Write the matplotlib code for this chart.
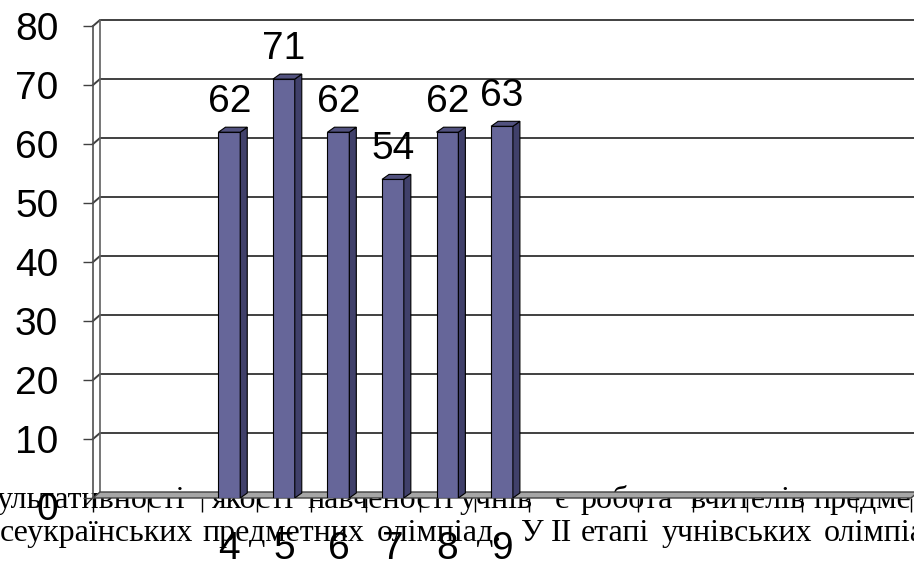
import numpy as np
import matplotlib
matplotlib.use('Agg')
import matplotlib.pyplot as plt
from matplotlib.patches import Polygon
from matplotlib.transforms import IdentityTransform

# категорії (класи) та відсотки
klasy = ['', '', '4', '5', '6', '7', '8', '9', '', '', '', '', '', '', '']
vidsotky = [np.nan, np.nan, 62, 71, 62, 54, 62, 63,
            np.nan, np.nan, np.nan, np.nan, np.nan, np.nan, np.nan]
y_ticks = [0, 10, 20, 30, 40, 50, 60, 70, 80]

# текст документа, що проступає під діаграмою
ryadok1 = ['ультативності', 'якості', 'навченості', 'учнів', 'є', 'робота',
           'вчителів', 'предме']
ryadok2 = ['сеукраїнських', 'предметних', 'олімпіад.', 'У', 'II', 'етапі',
           'учнівських', 'олімпіа']
x1 = [-3, 212, 307, 460, 555, 580, 690, 813]
x2 = [0, 202, 377, 521, 551, 581, 662, 824]

W, H = 914, 562
fig = plt.figure(figsize=(W / 100, H / 100), dpi=100)
ax = fig.add_axes([93 / W, 64 / H, 818 / W, 472 / H])
ax.set_xlim(-0.5, len(klasy) - 0.5)
ax.set_ylim(0, 80)
ax.patch.set_alpha(0)
for s in ['top', 'right', 'bottom']:
    ax.spines[s].set_visible(False)
ax.spines['left'].set_color('#505050')
ax.spines['left'].set_linewidth(1.2)

chart_font = 'Liberation Sans'
ax.set_yticks(y_ticks)
# "0" малюється окремо, трохи нижче, як в оригіналі
ax.set_yticklabels([''] + [str(t) for t in y_ticks[1:]], fontsize=28, family=chart_font)
ax.tick_params(axis='y', length=7, width=1, color='#404040', pad=18)
ax.annotate(str(y_ticks[0]), (-0.5, y_ticks[0]), xytext=(-25.2, -6),
            textcoords='offset points', ha='right', va='center_baseline',
            fontsize=28, family=chart_font, annotation_clip=False)
ax.set_xticks(range(len(klasy)))
ax.set_xticklabels(klasy, fontsize=28, family=chart_font)
ax.set_xticks(np.arange(-0.5, len(klasy)), minor=True)
ax.tick_params(axis='x', which='major', length=0, pad=24)
ax.tick_params(axis='x', which='minor', length=10, width=1, color='black')

ident = IdentityTransform()


def px(x, y):
    return ax.transData.transform((x, y))


wdx, wdy = 7, 6
xl, xr = -0.5, len(klasy) - 0.5

# задня стінка: лінії сітки
for t in y_ticks[1:]:
    a = px(xl, t)
    b = a + (wdx, wdy)
    c = px(xr, t) + (wdx, wdy)
    ax.plot([a[0], b[0], c[0]], [a[1], b[1], c[1]], transform=ident,
            color='#404040', lw=1.4, clip_on=False, zorder=1)
a = px(xl, 0) + (wdx, wdy)
b = px(xl, 80) + (wdx, wdy)
ax.plot([a[0], b[0]], [a[1], b[1]], transform=ident, color='#606060',
        lw=1.2, clip_on=False, zorder=1)

# підлога
f0, f1 = px(xl, 0), px(xr, 0)
floor = Polygon([f0, f1, f1 + (wdx, wdy), f0 + (wdx, wdy)], closed=True,
                transform=ident, facecolor='#a6a6a6', edgecolor='#404040',
                lw=1, clip_on=False, zorder=2)
ax.add_patch(floor)

# стовпчики
bdx, bdy = 7, 5
bars = ax.bar(range(len(klasy)), vidsotky, width=0.4, color='#666699',
              edgecolor='black', lw=0.8, zorder=4)
for i, (rect, v) in enumerate(zip(bars, vidsotky)):
    if np.isnan(v):
        continue
    x0 = rect.get_x()
    xx = x0 + rect.get_width()
    p10, p11, p01 = px(xx, 0), px(xx, v), px(x0, v)
    side = Polygon([p10, p11, p11 + (bdx, bdy), p10 + (bdx, bdy)],
                   transform=ident, facecolor='#40406a', edgecolor='black',
                   lw=0.8, zorder=4)
    top = Polygon([p01, p11, p11 + (bdx, bdy), p01 + (bdx, bdy)],
                  transform=ident, facecolor='#52527f', edgecolor='black',
                  lw=0.8, zorder=4)
    ax.add_patch(side)
    ax.add_patch(top)
    ax.annotate(str(int(v)), (i, v), xytext=(0, 14.5), textcoords='offset points',
                ha='center', va='baseline', fontsize=28, family=chart_font,
                zorder=5)

# рядки тексту під діаграмою
for words, xs, base in [(ryadok1, x1, 508), (ryadok2, x2, 541)]:
    for w, x in zip(words, xs):
        fig.text(x / W, 1 - base / H, w, fontsize=23, family='Liberation Serif',
                 va='baseline', ha='left', zorder=-1)

fig.savefig('out.png', dpi=100)
